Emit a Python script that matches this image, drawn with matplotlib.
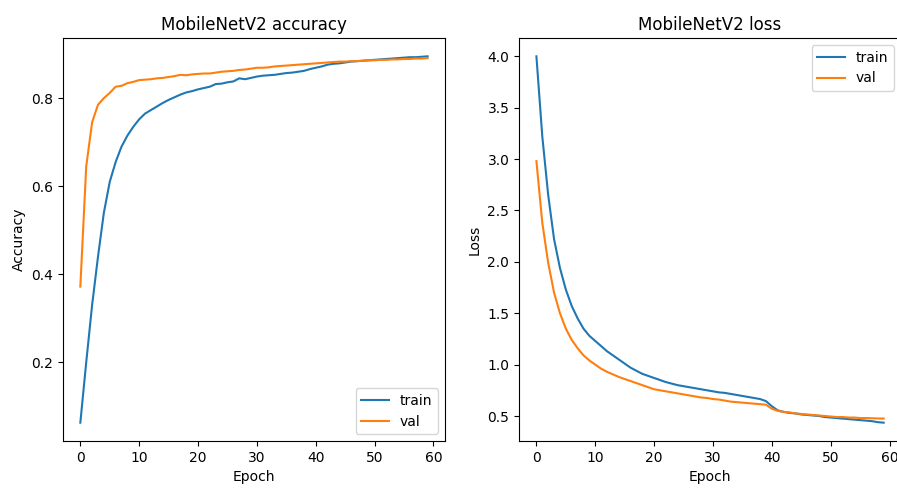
import matplotlib
matplotlib.use("Agg")
import matplotlib.pyplot as plt

# Training history (60 epochs)
epochs = list(range(60))

train_acc = [0.063, 0.20, 0.33, 0.44, 0.54, 0.61, 0.655, 0.69, 0.715, 0.735,
             0.752, 0.765, 0.773, 0.781, 0.789, 0.796, 0.802, 0.808, 0.813, 0.816,
             0.820, 0.823, 0.826, 0.832, 0.833, 0.836, 0.838, 0.845, 0.843, 0.846,
             0.849, 0.851, 0.852, 0.853, 0.855, 0.857, 0.858, 0.860, 0.862, 0.866,
             0.869, 0.872, 0.876, 0.878, 0.879, 0.881, 0.883, 0.884, 0.885, 0.886,
             0.887, 0.888, 0.889, 0.890, 0.891, 0.892, 0.893, 0.893, 0.894, 0.895]
val_acc = [0.372, 0.645, 0.745, 0.785, 0.800, 0.812, 0.826, 0.828, 0.834, 0.837,
           0.841, 0.842, 0.843, 0.845, 0.846, 0.848, 0.850, 0.853, 0.852, 0.854,
           0.855, 0.856, 0.856, 0.858, 0.860, 0.861, 0.862, 0.864, 0.865, 0.867,
           0.869, 0.869, 0.870, 0.872, 0.873, 0.874, 0.875, 0.876, 0.877, 0.878,
           0.879, 0.880, 0.881, 0.882, 0.883, 0.883, 0.884, 0.884, 0.885, 0.886,
           0.886, 0.887, 0.887, 0.888, 0.888, 0.889, 0.889, 0.890, 0.890, 0.891]

train_loss = [4.00, 3.22, 2.65, 2.22, 1.94, 1.73, 1.57, 1.45, 1.35, 1.28,
              1.23, 1.18, 1.13, 1.09, 1.05, 1.01, 0.97, 0.94, 0.91, 0.89,
              0.87, 0.85, 0.83, 0.815, 0.80, 0.79, 0.78, 0.77, 0.76, 0.75,
              0.74, 0.73, 0.725, 0.715, 0.705, 0.695, 0.685, 0.675, 0.665, 0.645,
              0.595, 0.555, 0.54, 0.53, 0.525, 0.515, 0.51, 0.505, 0.50, 0.49,
              0.485, 0.48, 0.475, 0.47, 0.465, 0.46, 0.455, 0.45, 0.44, 0.435]
val_loss = [2.98, 2.38, 1.99, 1.70, 1.50, 1.35, 1.24, 1.16, 1.09, 1.04,
            1.00, 0.96, 0.93, 0.905, 0.88, 0.86, 0.84, 0.82, 0.80, 0.78,
            0.76, 0.75, 0.74, 0.73, 0.72, 0.71, 0.70, 0.69, 0.68, 0.675,
            0.665, 0.66, 0.65, 0.64, 0.635, 0.63, 0.625, 0.62, 0.615, 0.61,
            0.57, 0.55, 0.54, 0.535, 0.525, 0.52, 0.515, 0.51, 0.505, 0.50,
            0.495, 0.49, 0.49, 0.485, 0.485, 0.48, 0.48, 0.478, 0.476, 0.475]

fig, (ax1, ax2) = plt.subplots(1, 2, figsize=(8.97, 5), dpi=100)
fig.subplots_adjust(left=0.0702, right=1.0045, bottom=0.118, top=0.924,
                    wspace=0.194)

# Accuracy
ax1.plot(epochs, train_acc, label="train")
ax1.plot(epochs, val_acc, label="val")
ax1.set_title("MobileNetV2 accuracy")
ax1.set_xlabel("Epoch")
ax1.set_ylabel("Accuracy")
ax1.legend(loc="lower right")

# Loss
ax2.plot(epochs, train_loss, label="train")
ax2.plot(epochs, val_loss, label="val")
ax2.set_title("MobileNetV2 loss")
ax2.set_xlabel("Epoch")
ax2.set_ylabel("Loss")
ax2.legend(loc="upper right")

plt.savefig("out.png", dpi=100)
